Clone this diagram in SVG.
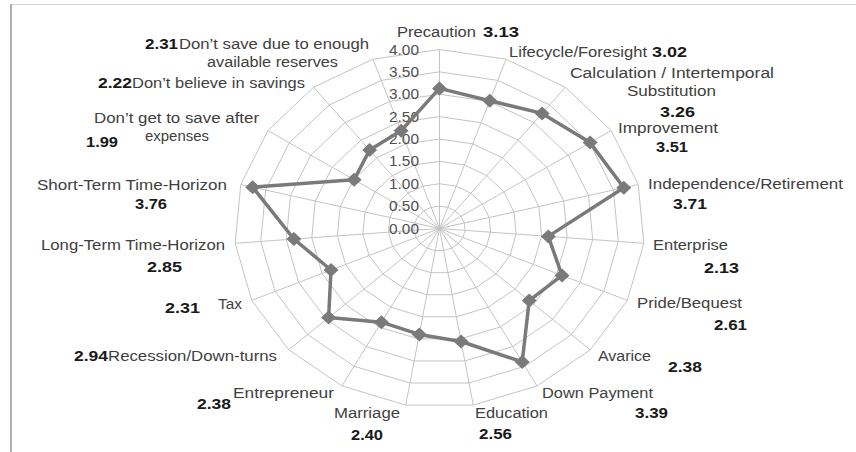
<svg xmlns="http://www.w3.org/2000/svg" xmlns:xlink="http://www.w3.org/1999/xlink" width="856" height="452" viewBox="0 0 856 452">
<style>
.grid{fill:none;stroke:#c4c4c4;stroke-width:1;vector-effect:non-scaling-stroke}
.lab{font-family:"Liberation Sans",Arial,sans-serif;font-size:14px;fill:#404040}
.val{font-family:"Liberation Sans",Arial,sans-serif;font-size:14px;font-weight:bold;fill:#1a1a1a}
.ax{font-family:"Liberation Sans",Arial,sans-serif;font-size:14px;fill:#505050;text-anchor:end}
.series{fill:none;stroke:#7a7a7a;stroke-width:3.5;stroke-linejoin:round}
.mk{fill:#7a7a7a}
</style>
<defs>
<polygon id="ring" class="grid" points="0,-1 0.3247,-0.9458 0.6142,-0.7891 0.8372,-0.5469 0.9694,-0.2455 0.9966,0.0826 0.9161,0.4017 0.7357,0.6773 0.4759,0.8795 0.1646,0.9864 -0.1646,0.9864 -0.4759,0.8795 -0.7357,0.6773 -0.9161,0.4017 -0.9966,0.0826 -0.9694,-0.2455 -0.8372,-0.5469 -0.6142,-0.7891 -0.3247,-0.9458"/>
<path id="dm" class="mk" d="M0,-7 L7.5,0 L0,7 L-7.5,0 Z"/>
</defs>
<rect width="856" height="452" fill="#ffffff"/>
<line x1="10" y1="4.5" x2="856" y2="4.5" stroke="#d4d4d4" stroke-width="1"/>
<rect x="10" y="4" width="2" height="448" fill="#b0b0b0"/>

<g id="grid" transform="translate(439.5 228.5) scale(205 179)">
<g transform="scale(0.125)"><use xlink:href="#ring" href="#ring"/></g>
<g transform="scale(0.25)"><use xlink:href="#ring" href="#ring"/></g>
<g transform="scale(0.375)"><use xlink:href="#ring" href="#ring"/></g>
<g transform="scale(0.5)"><use xlink:href="#ring" href="#ring"/></g>
<g transform="scale(0.625)"><use xlink:href="#ring" href="#ring"/></g>
<g transform="scale(0.75)"><use xlink:href="#ring" href="#ring"/></g>
<g transform="scale(0.875)"><use xlink:href="#ring" href="#ring"/></g>
<use xlink:href="#ring" href="#ring"/>
<path class="grid" d="M0,0 L0,-1 M0,0 L0.3247,-0.9458 M0,0 L0.6142,-0.7891 M0,0 L0.8372,-0.5469 M0,0 L0.9694,-0.2455 M0,0 L0.9966,0.0826 M0,0 L0.9161,0.4017 M0,0 L0.7357,0.6773 M0,0 L0.4759,0.8795 M0,0 L0.1646,0.9864 M0,0 L-0.1646,0.9864 M0,0 L-0.4759,0.8795 M0,0 L-0.7357,0.6773 M0,0 L-0.9161,0.4017 M0,0 L-0.9966,0.0826 M0,0 L-0.9694,-0.2455 M0,0 L-0.8372,-0.5469 M0,0 L-0.6142,-0.7891 M0,0 L-0.3247,-0.9458"/>
</g>

<g id="axis-labels">
<text class="ax" x="419" y="233.5" textLength="30" lengthAdjust="spacingAndGlyphs">0.00</text>
<text class="ax" x="419" y="211.1" textLength="30" lengthAdjust="spacingAndGlyphs">0.50</text>
<text class="ax" x="419" y="188.8" textLength="30" lengthAdjust="spacingAndGlyphs">1.00</text>
<text class="ax" x="419" y="166.4" textLength="30" lengthAdjust="spacingAndGlyphs">1.50</text>
<text class="ax" x="419" y="144" textLength="30" lengthAdjust="spacingAndGlyphs">2.00</text>
<text class="ax" x="419" y="121.6" textLength="30" lengthAdjust="spacingAndGlyphs">2.50</text>
<text class="ax" x="419" y="99.3" textLength="30" lengthAdjust="spacingAndGlyphs">3.00</text>
<text class="ax" x="419" y="76.9" textLength="30" lengthAdjust="spacingAndGlyphs">3.50</text>
<text class="ax" x="419" y="54.5" textLength="30" lengthAdjust="spacingAndGlyphs">4.00</text>
</g>

<g id="connectors">
<polygon class="series" points="439.5,88.4 489.8,100.7 542.1,113.4 590.1,142.6 623.8,187.7 548.3,236.4 562.0,275.4 529.2,300.6 522.2,361.9 461.1,341.5 419.3,334.4 381.4,322.2 328.6,317.6 331.0,270.0 293.9,239.0 252.7,187.2 354.1,179.8 369.6,150.1 401.1,130.7"/>
</g>

<g id="precaution">
<use href="#dm" xlink:href="#dm" x="439.5" y="88.4"/>
<text class="lab" x="397" y="37" textLength="79" lengthAdjust="spacingAndGlyphs">Precaution</text>
<text class="val" x="483" y="37" textLength="36" lengthAdjust="spacingAndGlyphs">3.13</text>
</g>
<g id="lifecycle">
<use href="#dm" xlink:href="#dm" x="489.8" y="100.7"/>
<text class="lab" x="509" y="57" textLength="138" lengthAdjust="spacingAndGlyphs">Lifecycle/Foresight</text>
<text class="val" x="652" y="57" textLength="35" lengthAdjust="spacingAndGlyphs">3.02</text>
</g>
<g id="calculation">
<use href="#dm" xlink:href="#dm" x="542.1" y="113.4"/>
<text class="lab" x="570" y="77.5" textLength="204" lengthAdjust="spacingAndGlyphs">Calculation / Intertemporal</text>
<text class="lab" x="627" y="95.5" textLength="89" lengthAdjust="spacingAndGlyphs">Substitution</text>
<text class="val" x="660" y="116.5" style="font-size:15px" textLength="35" lengthAdjust="spacingAndGlyphs">3.26</text>
</g>
<g id="improvement">
<use href="#dm" xlink:href="#dm" x="590.1" y="142.6"/>
<text class="lab" x="618" y="132.5" textLength="100" lengthAdjust="spacingAndGlyphs">Improvement</text>
<text class="val" x="656" y="151.5" textLength="32" lengthAdjust="spacingAndGlyphs">3.51</text>
</g>
<g id="independence">
<use href="#dm" xlink:href="#dm" x="623.8" y="187.7"/>
<text class="lab" x="648" y="188.5" textLength="195" lengthAdjust="spacingAndGlyphs">Independence/Retirement</text>
<text class="val" x="673" y="209" textLength="34" lengthAdjust="spacingAndGlyphs">3.71</text>
</g>
<g id="enterprise">
<use href="#dm" xlink:href="#dm" x="548.3" y="236.4"/>
<text class="lab" x="653" y="250" textLength="75" lengthAdjust="spacingAndGlyphs">Enterprise</text>
<text class="val" x="704" y="273" textLength="35" lengthAdjust="spacingAndGlyphs">2.13</text>
</g>
<g id="pride">
<use href="#dm" xlink:href="#dm" x="562.0" y="275.4"/>
<text class="lab" x="637" y="308" textLength="105" lengthAdjust="spacingAndGlyphs">Pride/Bequest</text>
<text class="val" x="714" y="330" textLength="33" lengthAdjust="spacingAndGlyphs">2.61</text>
</g>
<g id="avarice">
<use href="#dm" xlink:href="#dm" x="529.2" y="300.6"/>
<text class="lab" x="598" y="360.5" textLength="53" lengthAdjust="spacingAndGlyphs">Avarice</text>
<text class="val" x="668" y="372" textLength="34" lengthAdjust="spacingAndGlyphs">2.38</text>
</g>
<g id="down-payment">
<use href="#dm" xlink:href="#dm" x="522.2" y="361.9"/>
<text class="lab" x="542" y="397.5" textLength="111" lengthAdjust="spacingAndGlyphs">Down Payment</text>
<text class="val" x="635" y="417.5" textLength="33" lengthAdjust="spacingAndGlyphs">3.39</text>
</g>
<g id="education">
<use href="#dm" xlink:href="#dm" x="461.1" y="341.5"/>
<text class="lab" x="475" y="417.5" textLength="73" lengthAdjust="spacingAndGlyphs">Education</text>
<text class="val" x="479" y="438.5" textLength="33" lengthAdjust="spacingAndGlyphs">2.56</text>
</g>
<g id="marriage">
<use href="#dm" xlink:href="#dm" x="419.3" y="334.4"/>
<text class="lab" x="334" y="417.5" textLength="66" lengthAdjust="spacingAndGlyphs">Marriage</text>
<text class="val" x="351" y="439.5" textLength="32" lengthAdjust="spacingAndGlyphs">2.40</text>
</g>
<g id="entrepreneur">
<use href="#dm" xlink:href="#dm" x="381.4" y="322.2"/>
<text class="lab" x="233" y="397.5" textLength="101" lengthAdjust="spacingAndGlyphs">Entrepreneur</text>
<text class="val" x="197" y="408.5" textLength="34" lengthAdjust="spacingAndGlyphs">2.38</text>
</g>
<g id="recession">
<use href="#dm" xlink:href="#dm" x="328.6" y="317.6"/>
<text class="val" x="74" y="360.5" textLength="34" lengthAdjust="spacingAndGlyphs">2.94</text>
<text class="lab" x="108" y="360.5" textLength="169" lengthAdjust="spacingAndGlyphs">Recession/Down-turns</text>
</g>
<g id="tax">
<use href="#dm" xlink:href="#dm" x="331.0" y="270.0"/>
<text class="lab" x="218" y="308.5" textLength="24" lengthAdjust="spacingAndGlyphs">Tax</text>
<text class="val" x="165" y="313" textLength="35" lengthAdjust="spacingAndGlyphs">2.31</text>
</g>
<g id="long-term">
<use href="#dm" xlink:href="#dm" x="293.9" y="239.0"/>
<text class="lab" x="41" y="249.5" textLength="184" lengthAdjust="spacingAndGlyphs">Long-Term Time-Horizon</text>
<text class="val" x="147" y="271.5" textLength="35" lengthAdjust="spacingAndGlyphs">2.85</text>
</g>
<g id="short-term">
<use href="#dm" xlink:href="#dm" x="252.7" y="187.2"/>
<text class="lab" x="37" y="189.5" textLength="190" lengthAdjust="spacingAndGlyphs">Short-Term Time-Horizon</text>
<text class="val" x="135" y="209" textLength="32" lengthAdjust="spacingAndGlyphs">3.76</text>
</g>
<g id="after-expenses">
<use href="#dm" xlink:href="#dm" x="354.1" y="179.8"/>
<text class="lab" x="94" y="123" textLength="165" lengthAdjust="spacingAndGlyphs">Don’t get to save after</text>
<text class="lab" x="145" y="140.5" textLength="64" lengthAdjust="spacingAndGlyphs">expenses</text>
<text class="val" x="86" y="147" textLength="32" lengthAdjust="spacingAndGlyphs">1.99</text>
</g>
<g id="dont-believe">
<use href="#dm" xlink:href="#dm" x="369.6" y="150.1"/>
<text class="val" x="98" y="88" textLength="34" lengthAdjust="spacingAndGlyphs">2.22</text>
<text class="lab" x="132" y="88" textLength="173" lengthAdjust="spacingAndGlyphs">Don’t believe in savings</text>
</g>
<g id="enough-reserves">
<use href="#dm" xlink:href="#dm" x="401.1" y="130.7"/>
<text class="val" x="145" y="49" textLength="33" lengthAdjust="spacingAndGlyphs">2.31</text>
<text class="lab" x="179" y="49" textLength="190" lengthAdjust="spacingAndGlyphs">Don’t save due to enough</text>
<text class="lab" x="207" y="67" textLength="131" lengthAdjust="spacingAndGlyphs">available reserves</text>
</g>
</svg>
